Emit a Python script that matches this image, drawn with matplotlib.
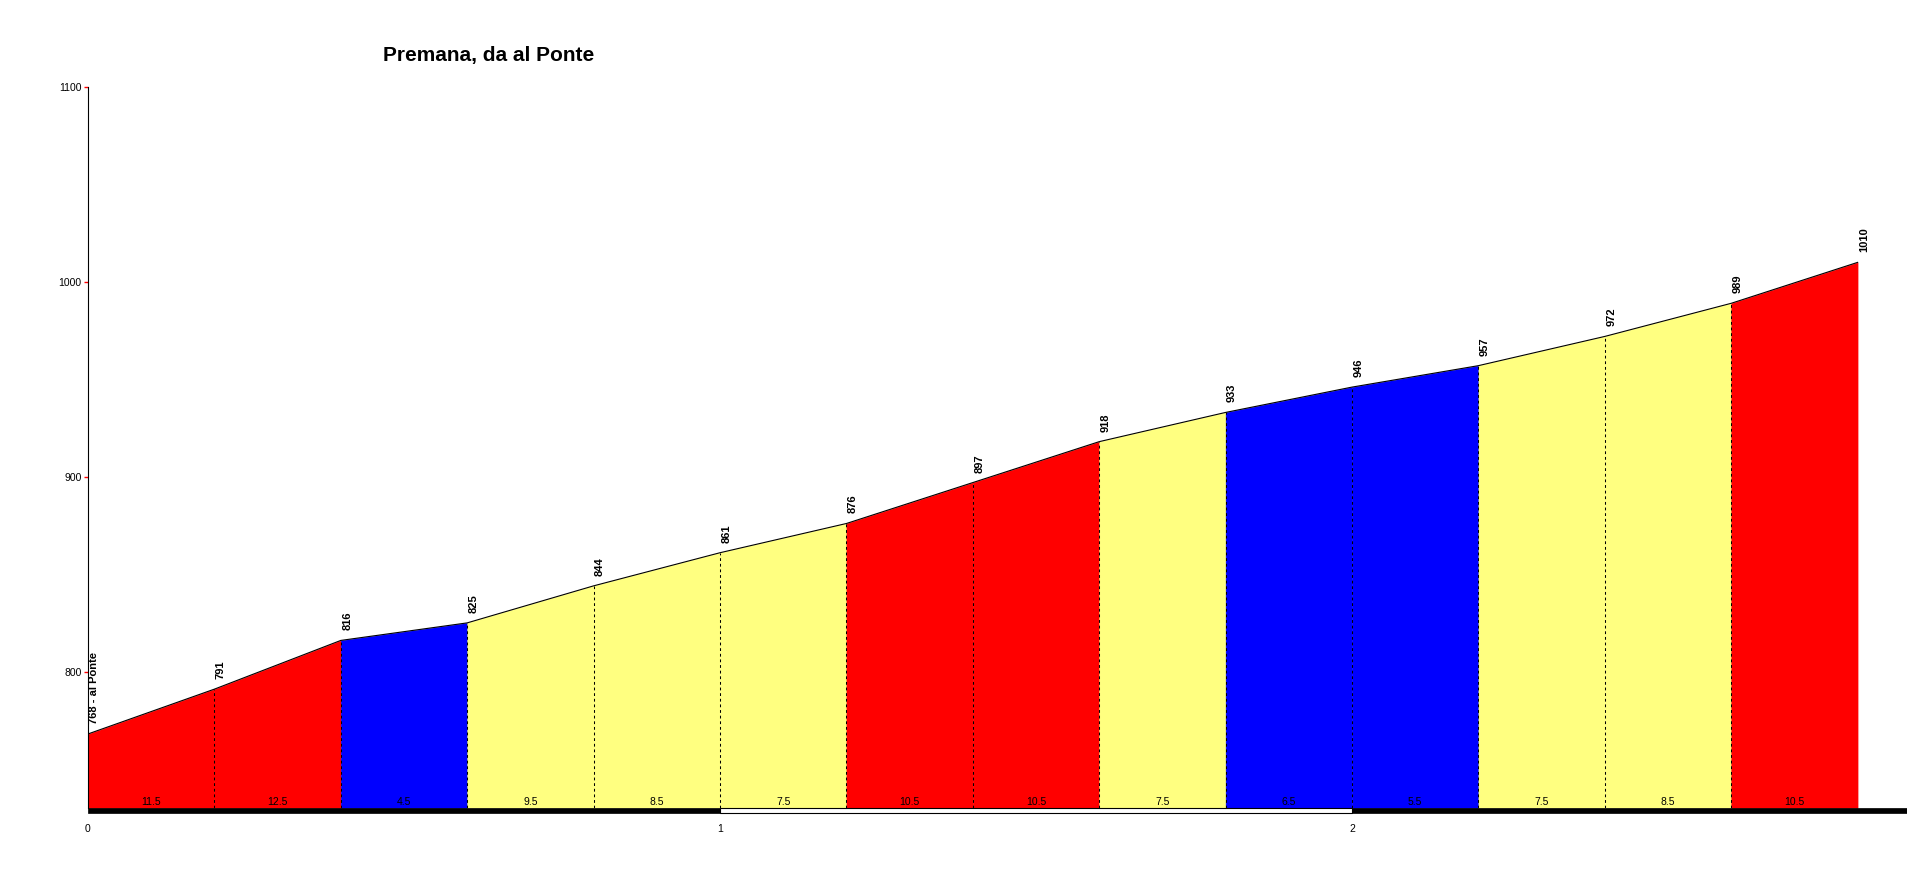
import numpy as np
import matplotlib
matplotlib.use('Agg')
import matplotlib.pyplot as plt
import matplotlib.transforms as mtransforms
from matplotlib.patches import Rectangle

plt.rcParams['font.family'] = ['Liberation Sans', 'DejaVu Sans']

# profile data: distance (km), elevation (m), gradient (%) per 200 m segment
title = 'Premana, da al Ponte'
start_name = 'al Ponte'
distances = [0.0, 0.2, 0.4, 0.6, 0.8, 1.0, 1.2, 1.4, 1.6, 1.8, 2.0, 2.2, 2.4, 2.6, 2.8]
elevations = [768, 791, 816, 825, 844, 861, 876, 897, 918, 933, 946, 957, 972, 989, 1010]
gradients = [11.5, 12.5, 4.5, 9.5, 8.5, 7.5, 10.5, 10.5, 7.5, 6.5, 5.5, 7.5, 8.5, 10.5]
km_ticks = [0, 1, 2]
elev_ticks = [800, 900, 1000, 1100]

base = 730


def seg_color(g):
    # colour classes by steepness
    if g >= 10:
        return '#FF0000'
    if g >= 7:
        return '#FFFF80'
    return '#0000FF'


fig = plt.figure(figsize=(19.08, 8.73), dpi=100)
ax = fig.add_axes([88 / 1908, 1 - 808 / 873, 1 - 88 / 1908, (808 - 87) / 873])
ax.set_xlim(0, (1908 - 88) / 632)
ax.set_ylim(base, 1100)

for i, g in enumerate(gradients):
    x = distances[i:i + 2]
    y = elevations[i:i + 2]
    ax.fill_between(x, y, base, facecolor=seg_color(g), edgecolor=seg_color(g), lw=0.3, zorder=1)
    ax.annotate(str(g), xy=((x[0] + x[1]) / 2, base), xytext=(0, 3), textcoords='offset pixels',
                ha='center', va='baseline', fontsize=7.5, zorder=5)

# dashed separators between segments
for d, e in zip(distances[1:-1], elevations[1:-1]):
    ax.plot([d, d], [base, e], color='black', lw=0.75, ls=(0, (2.7, 2.7)), zorder=3)

ax.plot(distances, elevations, color='black', lw=0.8, zorder=4)

# elevation labels
for i, (d, e) in enumerate(zip(distances, elevations)):
    txt = str(e) if i > 0 else '%d - %s' % (e, start_name)
    ax.annotate(txt, xy=(d, e), xytext=(6.5, 10), textcoords='offset pixels', rotation=90,
                ha='center', va='bottom', fontsize=8, fontweight='bold')

# km bar under the profile
trans = mtransforms.blended_transform_factory(ax.transData, ax.transAxes)
h = 5 / 721
xmax = ax.get_xlim()[1]
for k in km_ticks:
    w = 1 if k + 1 < xmax else xmax - k
    if k % 2 == 0:
        r = Rectangle((k, -h), w, h, transform=trans, facecolor='black', edgecolor='black', lw=0.5, clip_on=False)
    else:
        r = Rectangle((k, -h), w, h, transform=trans, facecolor='white', edgecolor='black', lw=0.8, clip_on=False)
    ax.add_patch(r)

ax.set_xticks(km_ticks)
ax.set_xticklabels([str(k) for k in km_ticks])
ax.tick_params(axis='x', length=0, labelsize=7.5, pad=11.5)
ax.set_yticks(elev_ticks)
ax.tick_params(axis='y', direction='out', length=3, width=1, color='red', labelcolor='black',
               labelsize=7.5, pad=1.5)

for s in ['top', 'right', 'bottom']:
    ax.spines[s].set_visible(False)
ax.spines['left'].set_linewidth(0.8)

fig.text(489 / 1908, 1 - 56 / 873, title, ha='center', va='center', fontsize=15, fontweight='bold')

fig.savefig('out.png', dpi=100)
